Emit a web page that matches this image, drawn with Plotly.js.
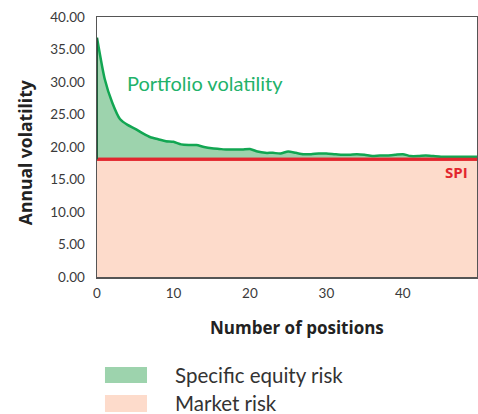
<!DOCTYPE html>
<html>
<head>
<meta charset="utf-8">
<script src="https://cdn.plot.ly/plotly-3.0.1.min.js"></script>
<style>html,body{margin:0;padding:0;background:#fff;}#chart{width:478px;height:414px;}</style>
</head>
<body>
<div id="chart"></div>
<script>
// Data
const positions = [0,1,2,3,4,5,6,7,8,9,10,11,12,13,14,15,16,17,18,19,20,21,22,23,24,25,26,27,28,29,30,31,32,33,34,35,36,37,38,39,40,41,42,43,44,45,46,47,48,49,50];
const portfolioVol = [36.8,30.5,26.8,24.3,23.4,22.8,22.1,21.5,21.2,20.9,20.8,20.4,20.3,20.3,20.0,19.8,19.7,19.6,19.6,19.6,19.7,19.3,19.1,19.1,19.0,19.3,19.1,18.9,18.9,19.0,19.0,18.9,18.8,18.8,18.9,18.8,18.6,18.7,18.7,18.8,18.9,18.6,18.6,18.7,18.6,18.5,18.5,18.5,18.5,18.5,18.5];
const spiValue = 18.1;
const spiVol = positions.map(() => spiValue);
const seriesNames = ['Specific equity risk', 'Market risk'];
const yTickVals = [0,5,10,15,20,25,30,35,40];
const xTickVals = [0,10,20,30,40];

const colGreenFill = '#9dd3ad';
const colGreenLine = '#12a652';
const colSalmon = '#fddbcb';
const colRed = '#e2262e';
const font = 'Lato, "Open Sans", sans-serif';
const boldFont = '"Open Sans", Lato, sans-serif';

const traces = [
  {x: positions, y: spiVol, type: 'scatter', mode: 'lines', fill: 'tozeroy',
   fillcolor: colSalmon, line: {color: colRed, width: 3}, name: seriesNames[1], hoverinfo: 'skip'},
  {x: positions, y: portfolioVol, type: 'scatter', mode: 'lines', fill: 'tonexty',
   fillcolor: colGreenFill, line: {color: colGreenLine, width: 2.5, shape: 'spline', smoothing: 0.6}, name: seriesNames[0], hoverinfo: 'skip'},
  {x: positions, y: spiVol, type: 'scatter', mode: 'lines',
   line: {color: colRed, width: 3}, showlegend: false, hoverinfo: 'skip'}
];

const layout = {
  width: 478, height: 414,
  margin: {l: 97, r: 1, t: 17, b: 137},
  paper_bgcolor: '#fff', plot_bgcolor: '#fff',
  showlegend: false,
  font: {family: font, color: '#3a3a3a', size: 13},
  xaxis: {range: [0, 49.7], tickvals: xTickVals, showgrid: false, zeroline: false,
          showline: true, linecolor: '#555', linewidth: 1.5, mirror: true, ticks: '',
          ticklabelstandoff: 3,
          tickfont: {family: font, size: 13.5, color: '#3a3a3a'}, fixedrange: true},
  yaxis: {range: [0, 40], tickvals: yTickVals, tickformat: '.2f', showgrid: false, zeroline: false,
          showline: true, linecolor: '#555', linewidth: 1.5, mirror: true, ticks: '',
          ticklabelstandoff: 8,
          tickfont: {family: font, size: 13.5, color: '#3a3a3a'}, fixedrange: true},
  shapes: [
    {type: 'line', xref: 'x', yref: 'y', x0: positions[0], x1: positions[0], y0: spiValue, y1: portfolioVol[0],
     line: {color: '#1d5c38', width: 2}},
    {type: 'rect', xref: 'paper', yref: 'paper', x0: 0.021, x1: 0.1316, y0: -0.346, y1: -0.408,
     fillcolor: colGreenFill, line: {width: 0}},
    {type: 'rect', xref: 'paper', yref: 'paper', x0: 0.021, x1: 0.1316, y0: -0.454, y1: -0.519,
     fillcolor: colSalmon, line: {width: 0}}
  ],
  annotations: [
    {text: 'Portfolio volatility', xref: 'x', yref: 'y', x: 3.7, y: 29.8, xanchor: 'left', yanchor: 'middle',
     showarrow: false, font: {family: font, size: 20, color: '#22b26a'}},
    {text: '<b>SPI</b>', xref: 'x', yref: 'y', x: 48.8, y: 16.1, xanchor: 'right', yanchor: 'middle',
     showarrow: false, font: {family: boldFont, size: 15, color: colRed}},
    {text: '<b>Annual volatility</b>', xref: 'paper', yref: 'paper', x: -0.189, y: 0.477, textangle: -90,
     xanchor: 'center', yanchor: 'middle', showarrow: false, font: {family: boldFont, size: 17.5, color: '#222'}},
    {text: '<b>Number of positions</b>', xref: 'paper', yref: 'paper', x: 0.526, y: -0.196,
     xanchor: 'center', yanchor: 'middle', showarrow: false, font: {family: boldFont, size: 17, color: '#222'}},
    {text: seriesNames[0], xref: 'paper', yref: 'paper', x: 0.2, y: -0.377, xanchor: 'left', yanchor: 'middle',
     showarrow: false, font: {family: font, size: 20.5, color: '#333'}},
    {text: seriesNames[1], xref: 'paper', yref: 'paper', x: 0.2, y: -0.485, xanchor: 'left', yanchor: 'middle',
     showarrow: false, font: {family: font, size: 20.5, color: '#333'}}
  ]
};

Plotly.newPlot('chart', traces, layout, {displayModeBar: false, staticPlot: true});
</script>
</body>
</html>
